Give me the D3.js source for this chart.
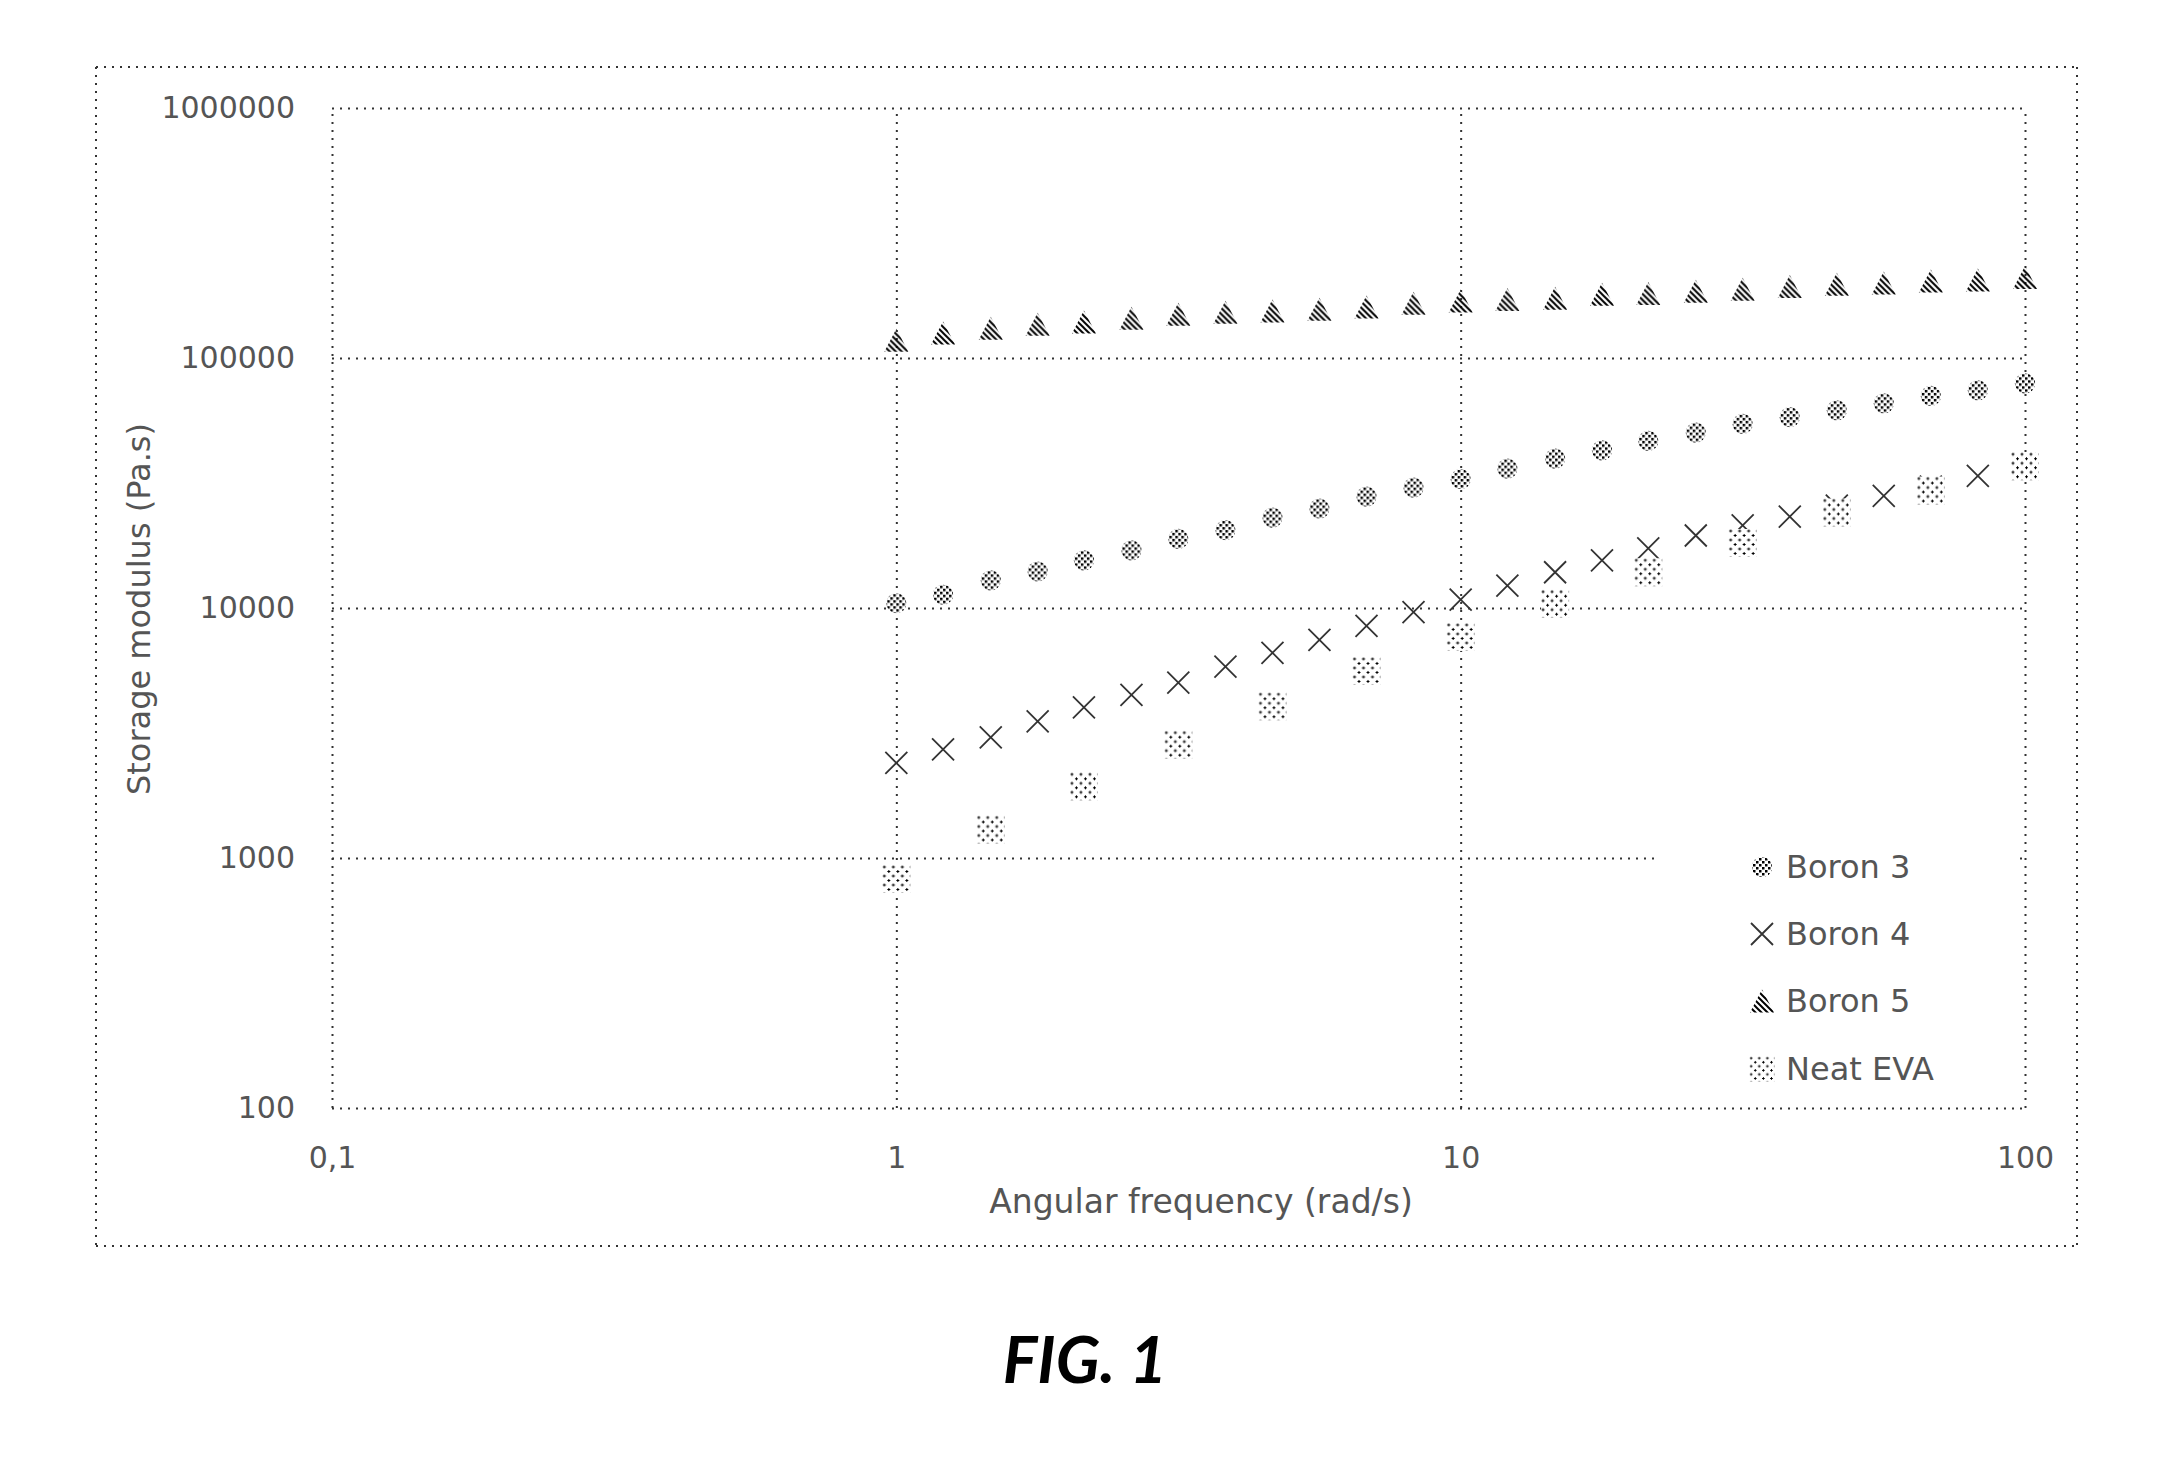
<!DOCTYPE html>
<html>
<head>
<meta charset="utf-8">
<style>
    body
    {
        margin:0;
        background:white;
    }
    text
    {
        font-family:"DejaVu Sans", sans-serif;
        fill:#555;
    }
    .grid line
    {
        stroke:#333;
        stroke-width:2;
        stroke-dasharray:2,6;
    }
</style>
<script type="text/javascript" src="https://d3js.org/d3.v7.min.js"></script>
</head>
<body>
<svg id="chart"></svg>
<script>
    // angular frequency (rad/s), 12 points per decade
    var freq = [1, 1.21, 1.47, 1.78, 2.15, 2.61, 3.16, 3.83, 4.64, 5.62, 6.81, 8.25,
                10, 12.1, 14.7, 17.8, 21.5, 26.1, 31.6, 38.3, 46.4, 56.2, 68.1, 82.5, 100];
    // neat EVA was measured at every other frequency
    var freqEVA = [1, 1.47, 2.15, 3.16, 4.64, 6.81, 10, 14.7, 21.5, 31.6, 46.4, 68.1, 100];

    var boron3 = [10450, 11300, 12900, 14000, 15500, 17000, 18900, 20500, 23000, 25000, 27900, 30300,
                  32800, 36100, 39600, 42700, 46600, 50300, 54500, 58000, 61800, 65900, 70500, 74300, 79200];
    var boron4 = [2400, 2720, 3040, 3520, 4000, 4490, 5030, 5830, 6620, 7460, 8490, 9620,
                  10800, 12300, 13900, 15500, 17300, 19500, 21400, 23200, 25700, 28100, 30600, 33800, 37600];
    var boron5 = [117800, 126000, 131600, 136500, 139400, 144200, 149600, 152400, 154300, 156700, 160000, 165600,
                  169000, 171400, 173400, 180000, 181000, 185000, 188400, 193000, 197400, 199700, 203400, 205000, 209800];
    var neatEVA = [824, 1300, 1935, 2840, 4045, 5600, 7660, 10400, 13900, 18200, 24100, 29500, 36900];

    var xTicks = [0.1, 1, 10, 100];
    var xTickLabels = ["0,1", "1", "10", "100"];
    var yTicks = [100, 1000, 10000, 100000, 1000000];
    var yTickLabels = ["100", "1000", "10000", "100000", "1000000"];
    var seriesNames = ["Boron 3", "Boron 4", "Boron 5", "Neat EVA"];

    var xTitle = "Angular frequency (rad/s)";
    var yTitle = "Storage modulus (Pa.s)";
    var caption = "FIG. 1";

    var screen = {width:2169, height:1464};
    var plot = {left:332, right:2025, top:108, bottom:1108};

    var svg = d3.select("#chart")
        .attr("width", screen.width)
        .attr("height", screen.height);

    svg.append("rect")
        .attr("width", screen.width)
        .attr("height", screen.height)
        .attr("fill", "white");

    // halftone style fills
    var defs = svg.append("defs");
    var dots = defs.append("pattern")
        .attr("id", "dots")
        .attr("width", 6).attr("height", 6)
        .attr("patternUnits", "userSpaceOnUse");
    dots.append("rect").attr("width", 6).attr("height", 6).attr("fill", "white");
    dots.append("rect").attr("x", 0).attr("y", 0).attr("width", 2.5).attr("height", 2.5).attr("fill", "#000");
    dots.append("rect").attr("x", 3).attr("y", 3).attr("width", 2.5).attr("height", 2.5).attr("fill", "#000");

    var sparse = defs.append("pattern")
        .attr("id", "sparse")
        .attr("width", 9).attr("height", 9)
        .attr("patternUnits", "userSpaceOnUse");
    sparse.append("rect").attr("width", 9).attr("height", 9).attr("fill", "white");
    sparse.append("path")
        .attr("d", "M1,0 h1 v1 h1 v1 h-1 v1 h-1 v-1 h-1 v-1 h1 Z M5.5,4.5 h1 v1 h1 v1 h-1 v1 h-1 v-1 h-1 v-1 h1 Z")
        .attr("fill", "#000");

    var stripes = defs.append("pattern")
        .attr("id", "stripes")
        .attr("width", 6).attr("height", 6)
        .attr("patternUnits", "userSpaceOnUse");
    stripes.append("path")
        .attr("d", "M-1,-1 L7,7 M5,-1 L7,1 M-1,5 L1,7")
        .attr("stroke", "#000")
        .attr("stroke-width", 2);

    var xScale = d3.scaleLog()
        .domain([0.1, 100])
        .range([plot.left, plot.right]);
    var yScale = d3.scaleLog()
        .domain([100, 1000000])
        .range([plot.bottom, plot.top]);

    // outer chart frame
    var frame = svg.append("g").attr("class", "grid");
    [[96, 67, 2077, 67], [96, 1246, 2077, 1246], [96, 67, 96, 1246], [2077, 67, 2077, 1246]]
        .forEach(function(l)
        {
            frame.append("line")
                .attr("x1", l[0]).attr("y1", l[1])
                .attr("x2", l[2]).attr("y2", l[3]);
        });

    // gridlines
    svg.append("g")
        .attr("class", "grid")
        .attr("transform", "translate(0," + plot.bottom + ")")
        .call(d3.axisBottom(xScale).tickValues(xTicks).tickSize(-(plot.bottom - plot.top)).tickFormat(""))
        .call(function(g) { g.select(".domain").remove(); });
    svg.append("g")
        .attr("class", "grid")
        .attr("transform", "translate(" + plot.left + ",0)")
        .call(d3.axisLeft(yScale).tickValues(yTicks).tickSize(-(plot.right - plot.left)).tickFormat(""))
        .call(function(g) { g.select(".domain").remove(); });

    // tick labels
    var xAxis = svg.append("g")
        .attr("transform", "translate(0," + plot.bottom + ")")
        .call(d3.axisBottom(xScale).tickValues(xTicks).tickSize(0).tickPadding(39)
            .tickFormat(function(d, i) { return xTickLabels[i]; }));
    xAxis.select(".domain").remove();
    xAxis.selectAll("text")
        .attr("font-family", null)
        .style("font-size", "30px")
        .style("fill", "#555");

    var yAxis = svg.append("g")
        .attr("transform", "translate(" + plot.left + ",0)")
        .call(d3.axisLeft(yScale).tickValues(yTicks).tickSize(0).tickPadding(37)
            .tickFormat(function(d, i) { return yTickLabels[i]; }));
    yAxis.select(".domain").remove();
    yAxis.selectAll("text")
        .attr("font-family", null)
        .style("font-size", "30px")
        .style("fill", "#555");

    // axis titles
    svg.append("text")
        .attr("x", 1201)
        .attr("y", 1213)
        .attr("text-anchor", "middle")
        .style("font-size", "33px")
        .text(xTitle);
    svg.append("text")
        .attr("transform", "translate(150,609) rotate(-90)")
        .attr("text-anchor", "middle")
        .style("font-size", "32px")
        .text(yTitle);

    // marker shapes
    var shapes = {
        circle: d3.symbol().type(d3.symbolCircle).size(320)(),
        cross: "M-11,-11 L11,11 M-11,11 L11,-11",
        triangle: "M0,-11.5 L12,11.5 L-12,11.5 Z",
        square: "M-14,-14 L14,-14 L14,14 L-14,14 Z"
    };
    var styles = [
        {shape:"circle", fill:"url(#dots)", stroke:"none"},
        {shape:"cross", fill:"none", stroke:"#333"},
        {shape:"triangle", fill:"url(#stripes)", stroke:"none"},
        {shape:"square", fill:"url(#sparse)", stroke:"none"}
    ];

    var drawSeries = function(xs, ys, style)
    {
        svg.append("g")
            .selectAll("path")
            .data(ys)
            .enter()
            .append("path")
            .attr("transform", function(d, i) { return "translate(" + xScale(xs[i]) + "," + yScale(d) + ")"; })
            .attr("d", shapes[style.shape])
            .attr("fill", style.fill)
            .attr("stroke", style.stroke)
            .attr("stroke-width", 1.8);
    }

    drawSeries(freq, boron3, styles[0]);
    drawSeries(freq, boron4, styles[1]);
    drawSeries(freq, boron5, styles[2]);
    drawSeries(freqEVA, neatEVA, styles[3]);

    // legend
    var legend = svg.append("g");
    legend.append("rect")
        .attr("x", 1660).attr("y", 832)
        .attr("width", 358).attr("height", 266)
        .attr("fill", "white");
    var legendY = [867, 934, 1001, 1069];
    seriesNames.forEach(function(name, i)
    {
        var s = styles[i];
        legend.append("path")
            .attr("transform", "translate(1762," + legendY[i] + ") scale(" + (s.shape == "square" ? 0.9 : 1) + ")")
            .attr("d", shapes[s.shape])
            .attr("fill", s.fill)
            .attr("stroke", s.stroke)
            .attr("stroke-width", 1.8);
        legend.append("text")
            .attr("x", 1786)
            .attr("y", legendY[i])
            .attr("dominant-baseline", "central")
            .style("font-size", "32px")
            .text(name);
    });

    // figure caption
    svg.append("text")
        .attr("x", 1085)
        .attr("y", 1383)
        .attr("text-anchor", "middle")
        .style("font-family", "Lato, 'Open Sans', sans-serif")
        .style("font-weight", "bold")
        .style("font-style", "italic")
        .style("font-size", "65px")
        .style("fill", "#000")
        .text(caption);
</script>
</body>
</html>
